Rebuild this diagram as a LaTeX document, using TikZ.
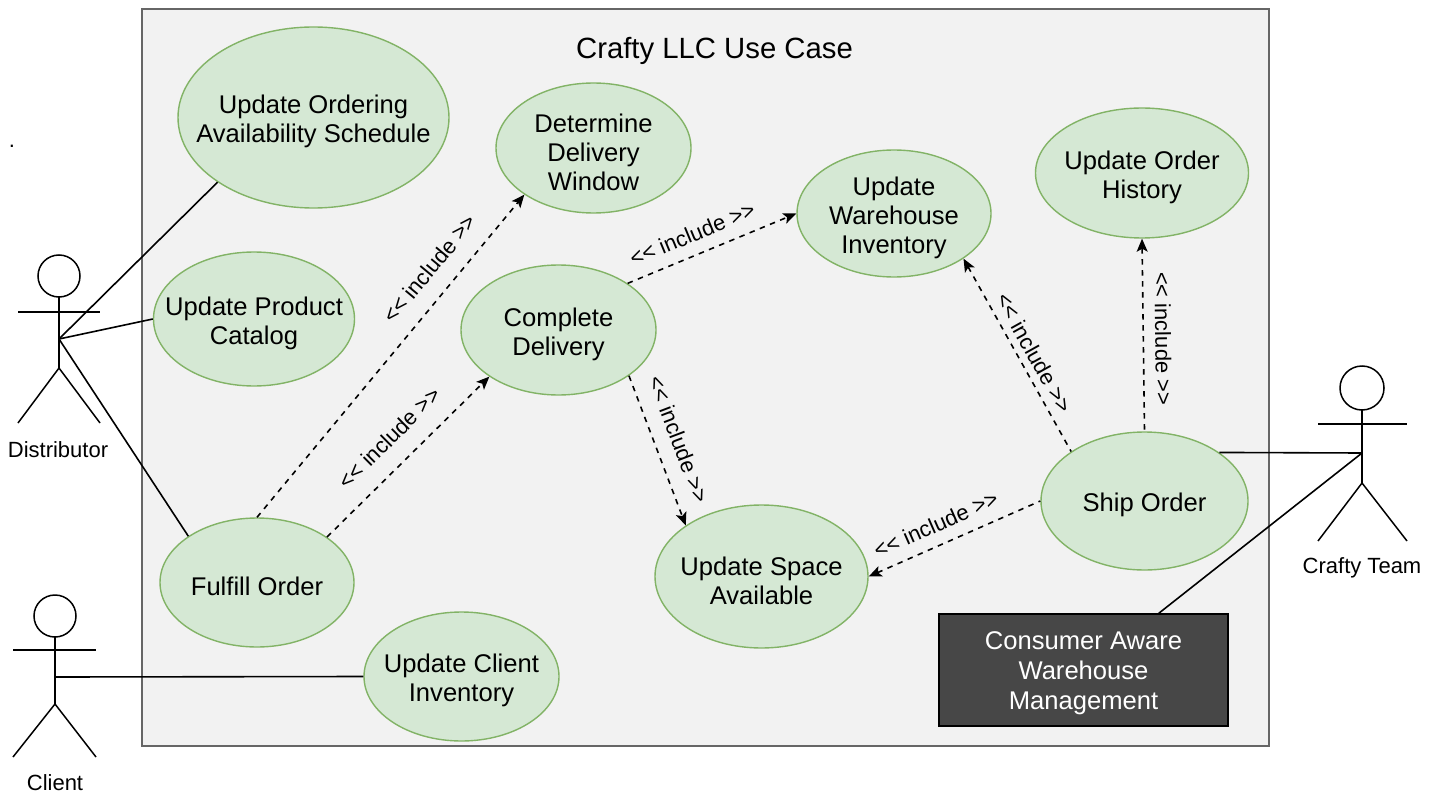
\documentclass[tikz,border=0pt]{standalone}
\usepackage{fontspec}
\setmainfont{Liberation Sans}
\usetikzlibrary{shapes.geometric,arrows.meta}
\definecolor{ucfill}{HTML}{D5E8D4}
\definecolor{ucline}{HTML}{82B366}
\definecolor{sysfill}{HTML}{F2F2F2}
\definecolor{sysline}{HTML}{666666}
\definecolor{cawmfill}{HTML}{474747}
\newcommand{\inc}{<\kern0pt< include >\kern0pt>}
\tikzset{
  usecase/.style={ellipse, draw=ucline, fill=ucfill, line width=1.4pt, inner sep=0pt},
  uctext/.style={font=\fontsize{25.6}{29}\selectfont, align=center, yshift=-4pt},
  actor/.style={line width=1.5pt},
  actorname/.style={font=\fontsize{22}{26}\selectfont, anchor=base},
  assoc/.style={line width=1.6pt},
  includes/.style={line width=1.6pt, dash pattern=on 5.5pt off 5.5pt},
  inclabel/.style={font=\fontsize{22}{26}\selectfont, sloped, inner sep=0pt},
  >={Stealth[length=13pt,width=11pt,inset=3pt]}
}
\begin{document}
\begin{tikzpicture}[x=1pt,y=-1pt]
\useasboundingbox (0,0) rectangle (1439,794);
\node[draw=sysline, fill=sysfill, line width=1.8pt, minimum width=1127pt, minimum height=737pt, inner sep=0pt] (system) at (705.5,377.5) {};
\node[font=\fontsize{29.3}{34}\selectfont, anchor=base] (title) at (714.5,58.5) {Crafty LLC Use Case};
\node[font=\fontsize{22}{26}\selectfont] (dot) at (12,146) {.};

\node[usecase, minimum width=271pt, minimum height=181pt, label={[uctext]center:Update Ordering\\Availability Schedule}] (uoas) at (313.5,117.5) {};
\node[usecase, minimum width=201pt, minimum height=134pt, label={[uctext]center:Update Product\\Catalog}] (upc) at (254,319) {};
\node[usecase, minimum width=195pt, minimum height=130pt, label={[uctext]center:Determine\\Delivery\\Window}] (ddw) at (593.5,148) {};
\node[usecase, minimum width=195pt, minimum height=130pt, label={[uctext]center:Complete\\Delivery}] (cd) at (558.5,330) {};
\node[usecase, minimum width=194pt, minimum height=127pt, label={[uctext]center:Update\\Warehouse\\Inventory}] (uwi) at (894,213.5) {};
\node[usecase, minimum width=213pt, minimum height=130pt, label={[uctext]center:Update Order\\History}] (uoh) at (1142,173) {};
\node[usecase, minimum width=207pt, minimum height=138pt, label={[uctext]center:Ship Order}] (so) at (1144.5,501) {};
\node[usecase, minimum width=213pt, minimum height=143pt, label={[uctext]center:Update Space\\Available}] (usa) at (761.5,576.5) {};
\node[usecase, minimum width=194pt, minimum height=129pt, label={[uctext]center:Fulfill Order}] (fo) at (257,582.5) {};
\node[usecase, minimum width=195pt, minimum height=129pt, label={[uctext]center:Update Client\\Inventory}] (uci) at (461.5,676.5) {};
\node[draw=black, fill=cawmfill, text=white, line width=1.4pt, minimum width=289pt, minimum height=112pt, align=center, font=\fontsize{25.6}{30}\selectfont] (cawm) at (1083.5,670) {};
\node[text=white, align=center, font=\fontsize{25.6}{30}\selectfont, yshift=-3pt] (cawmtext) at (cawm) {Consumer Aware\\Warehouse\\Management};

\draw[actor] (59,276) circle[radius=21];
\draw[actor] (59,297) -- (59,368);
\draw[actor] (18,312) -- (100,312);
\draw[actor] (18,423) -- (59,368) -- (100,423);
\coordinate (distributor) at (59,339);
\node[actorname] (distname) at (58,457) {Distributor};

\draw[actor] (55,616) circle[radius=21];
\draw[actor] (55,637) -- (55,704);
\draw[actor] (13,650) -- (96,650);
\draw[actor] (13,757) -- (55,704) -- (96,757);
\coordinate (client) at (55,677);
\node[actorname] (clientname) at (55,790) {Client};

\draw[actor] (1362,388) circle[radius=22];
\draw[actor] (1362,410) -- (1362,483);
\draw[actor] (1318,424) -- (1407,424);
\draw[actor] (1318,541) -- (1362,483) -- (1407,541);
\coordinate (team) at (1362,453);
\node[actorname] (teamname) at (1362,573) {Crafty Team};

\draw[assoc] (distributor) -- (uoas.214);
\draw[assoc] (distributor) -- (upc.180);
\draw[assoc] (distributor) -- (fo.146);
\draw[assoc] (client) -- (uci.180);
\draw[assoc] (team) -- (so.33);
\draw[assoc] (team) -- (cawm.37);

\draw[includes,->] (fo.90) -- node[inclabel, pos=.72, above=17pt] (inc1) {\inc} (ddw.214);
\draw[includes,->] (fo.33) -- node[inclabel, pos=.5, above=18pt] (inc2) {\inc} (cd.214);
\draw[includes,->] (cd.34) -- node[inclabel, pos=.43, above=12pt] (inc3) {\inc} (uwi.180);
\draw[includes,->] (cd.-33) -- node[inclabel, pos=.48, above=15pt] (inc4) {\inc} (usa.146);
\draw[includes,<-] (uwi.-33) -- node[inclabel, pos=.53, above=7pt] (inc5) {\inc} (so.146);
\draw[includes,<-] (uoh.270) -- node[inclabel, pos=.52, above=11pt] (inc6) {\inc} (so.90);
\draw[includes,<-] (usa.0) -- node[inclabel, pos=.44, above=12pt] (inc7) {\inc} (so.180);
\end{tikzpicture}
\end{document}
